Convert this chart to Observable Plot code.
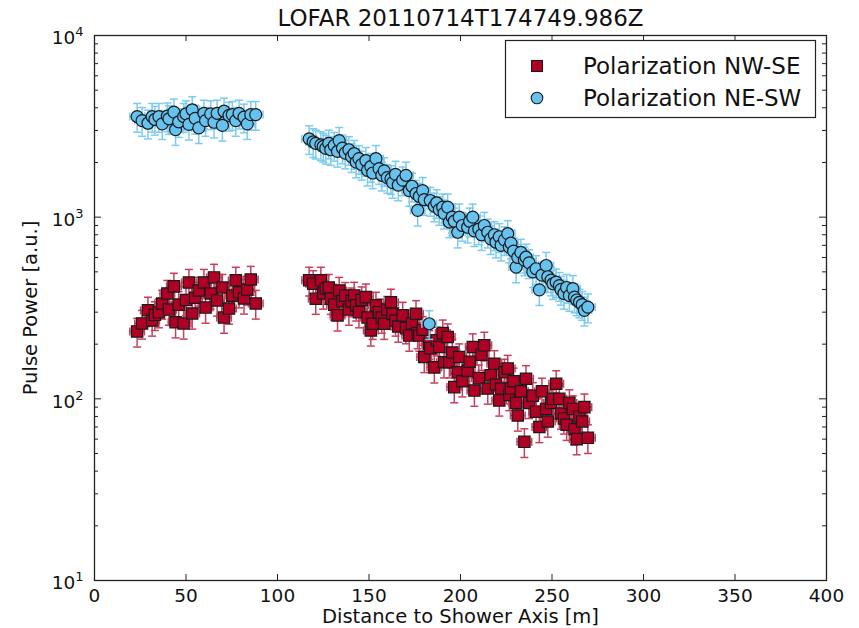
<!DOCTYPE html>
<html>
<head>
<meta charset="utf-8">
<script src="https://cdn.jsdelivr.net/npm/d3@7"></script>
<script src="https://cdn.jsdelivr.net/npm/@observablehq/plot@0.6"></script>
<style>
  body { margin: 0; background: #fff; }
  #chart { width: 859px; height: 628px; }
</style>
</head>
<body>
<div id="chart"></div>
<script>
// ---------------- data ----------------
const title = "LOFAR 20110714T174749.986Z";
const xLabel = "Distance to Shower Axis [m]";
const yLabel = "Pulse Power [a.u.]";
const seriesNames = ["Polarization NW-SE", "Polarization NE-SW"];

const xTicks = [0, 50, 100, 150, 200, 250, 300, 350, 400];
const yTicks = [10, 100, 1000, 10000];
const yTickExponents = ["1", "2", "3", "4"];
const yMinorTicks = [20,30,40,50,60,70,80,90,200,300,400,500,600,700,800,900,2000,3000,4000,5000,6000,7000,8000,9000];

// antenna distances, inner station group
const distLeft = [23.3, 26, 29.2, 31.5, 33, 35.2, 37, 39.8, 40.7, 43.4,
  44.3, 46, 48.7, 50, 51.6, 53.4, 55, 57, 59.8, 60.7,
  63.5, 65.3, 67, 69.9, 70.8, 73.5, 75.3, 77.2, 79, 81.7,
  83.5, 85.4, 88.1];
const nwseLeft = [235, 260, 307, 270, 290, 300, 335, 380, 310, 416,
  264, 330, 260, 350, 437, 295, 360, 395, 437, 318,
  380, 466, 348, 410, 280, 314, 370, 449, 386, 357,
  400, 454, 335];
const neswLeft = [3580, 3400, 3290, 3580, 3450, 3580, 3265, 3600, 3480, 3785,
  3030, 3350, 3580, 3700, 3240, 3900, 3500, 3100, 3730, 3400,
  3700, 3330, 3730, 3200, 3830, 3630, 3670, 3400, 3730, 3550,
  3265, 3670, 3670];

// antenna distances, outer station group
const distRight = [117.3, 119.5, 120.9, 123.7, 125, 126.4, 128, 129.1, 131, 132.8,
  133.7, 135.5, 137, 139, 140.5, 141.9, 143, 144.5, 146, 148.3,
  149.2, 151, 152, 153.8, 155.5, 157, 158.3, 160, 162, 162.9,
  164.5, 166, 168.4, 170.2, 172, 173.5, 175.7, 176.6, 177.5, 179.3,
  180.2, 182.9, 183.5, 185.7, 187, 188.4, 190.3, 191, 193, 193.9,
  195.5, 196.6, 198.5, 199.3, 201, 203.9, 205, 206.7, 207.6, 210,
  211.5, 213, 214.9, 216.5, 218.5, 219.4, 221.2, 222.2, 224, 225.8,
  226.7, 227.6, 229, 230.4, 231.3, 233, 234.9, 235.8, 237.5, 239.5,
  241.3, 243.1, 244.5, 246.8, 247.7, 249.5, 250.5, 252.3, 254, 254.9,
  256.5, 258, 259.5, 261.4, 262.3, 263.5, 265, 266.5, 267.7, 269.6];
const nwseRight = [449, 430, 356, 449, 380, 404, 410, 356, 330, 288,
  395, 345, 370, 310, 345, 371, 327, 300, 350, 363,
  280, 238, 259, 327, 300, 280, 259, 310, 340, 294,
  270, 250, 288, 245, 223, 260, 294, 230, 223, 240,
  170, 201, 190, 149, 210, 193, 230, 159, 219, 159,
  180, 116, 140, 170, 125, 143, 160, 193, 111, 130,
  175, 197, 114, 135, 156, 120, 98, 114, 140, 147,
  105, 114, 125, 95, 81, 110, 58, 129, 95, 104,
  85, 70, 110, 88, 75, 95, 100, 121, 100, 83,
  78, 72, 95, 88, 68, 60, 80, 75, 90, 61];
const neswRight = [2700, 2600, 2550, 2500, 2450, 2390, 2550, 2350, 2480, 2300,
  2640, 2400, 2250, 2350, 2150, 2240, 2010, 2100, 1950, 2050,
  1810, 1900, 1750, 2100, 1850, 1700, 1800, 1650, 1625, 1550,
  1720, 1500, 1600, 1700, 1400, 1480, 1350, 1090, 1300, 1400,
  1250, 259, 1235, 1150, 1200, 1100, 1135, 1050, 1135, 940,
  1000, 950, 826, 1000, 900, 880, 950, 1000, 840, 860,
  800, 900, 826, 760, 800, 728, 780, 700, 750, 811,
  684, 720, 650, 531, 600, 640, 580, 602, 560, 500,
  520, 398, 480, 542, 470, 450, 430, 439, 420, 400,
  380, 410, 370, 404, 363, 350, 340, 330, 307, 320];

const relErr = 0.18;   // relative power uncertainty
const distErr = 4;     // distance uncertainty [m]

// ---------------- chart ----------------
const W = 859, H = 628;
const mL = 94, mR = 33, mT = 35, mB = 48;
const fw = W - mL - mR, fh = H - mT - mB;

const colRed = "#b00024", colRedErr = "#c5405c";
const colBlue = "#66c3f0", colBlueErr = "#7ccbf0";
const edge = "#1a1a1a";
const font = "DejaVu Sans";

const distance = distLeft.concat(distRight);
const powerNWSE = nwseLeft.concat(nwseRight);
const powerNESW = neswLeft.concat(neswRight);
const red = distance.map((d, i) => ({x: d, y: powerNWSE[i]}));
const blue = distance.map((d, i) => ({x: d, y: powerNESW[i]}));

const capH = {draw(ctx, size) { const w = Math.sqrt(size / Math.PI); ctx.moveTo(-w, 0); ctx.lineTo(w, 0); }};
const capV = {draw(ctx, size) { const w = Math.sqrt(size / Math.PI); ctx.moveTo(0, -w); ctx.lineTo(0, w); }};

function seriesMarks(data, barColor, fill, symbol, r) {
  const lo = d => d.y * (1 - relErr), hi = d => d.y * (1 + relErr);
  const xl = d => d.x - distErr, xh = d => d.x + distErr;
  const sw = 1.5;
  return [
    Plot.ruleX(data, {x: "x", y1: lo, y2: hi, stroke: barColor, strokeWidth: sw}),
    Plot.ruleY(data, {y: "y", x1: xl, x2: xh, stroke: barColor, strokeWidth: sw}),
    Plot.dot(data, {x: "x", y: lo, symbol: capH, r: 4, fill: "none", stroke: barColor, strokeWidth: sw}),
    Plot.dot(data, {x: "x", y: hi, symbol: capH, r: 4, fill: "none", stroke: barColor, strokeWidth: sw}),
    Plot.dot(data, {x: xl, y: "y", symbol: capV, r: 4, fill: "none", stroke: barColor, strokeWidth: sw}),
    Plot.dot(data, {x: xh, y: "y", symbol: capV, r: 4, fill: "none", stroke: barColor, strokeWidth: sw}),
    Plot.dot(data, {x: "x", y: "y", symbol, r, fill, stroke: edge, strokeWidth: 1.2})
  ];
}

const sup = {"1": "¹", "2": "²", "3": "³", "4": "⁴"};

const chart = Plot.plot({
  width: W, height: H,
  marginLeft: mL, marginRight: mR, marginTop: mT, marginBottom: mB,
  style: {fontFamily: font, fontSize: "18.5px", background: "#fff", color: "#111"},
  x: {domain: [0, 400]},
  y: {type: "log", domain: [10, 10000]},
  marks: [
    ...seriesMarks(red, colRedErr, colRed, "square", 6.4),
    ...seriesMarks(blue, colBlueErr, colBlue, "circle", 6),
    Plot.frame({stroke: "#222", strokeWidth: 1.3}),
    Plot.tickX(xTicks, {x: d => d, insetTop: fh - 6, stroke: "#222", strokeWidth: 1}),
    Plot.tickX(xTicks, {x: d => d, insetBottom: fh - 6, stroke: "#222", strokeWidth: 1}),
    Plot.tickY(yTicks, {y: d => d, insetRight: fw - 7, stroke: "#222", strokeWidth: 1}),
    Plot.tickY(yTicks, {y: d => d, insetLeft: fw - 7, stroke: "#222", strokeWidth: 1}),
    Plot.tickY(yMinorTicks, {y: d => d, insetRight: fw - 4, stroke: "#222", strokeWidth: 1}),
    Plot.tickY(yMinorTicks, {y: d => d, insetLeft: fw - 4, stroke: "#222", strokeWidth: 1}),
    Plot.axisX({ticks: xTicks, tickSize: 0, tickPadding: 8, label: null, tickFormat: d => String(d)}),
    Plot.axisY({ticks: yTicks, tickSize: 0, tickPadding: 11, label: null,
      tickFormat: d => "10" + sup[yTickExponents[yTicks.indexOf(d)]]}),
    Plot.text([title], {text: d => d, frameAnchor: "top", lineAnchor: "middle", dy: -17, fontSize: 23, fill: "#111"}),
    Plot.text([xLabel], {text: d => d, frameAnchor: "bottom", lineAnchor: "middle", dy: 36, fontSize: 19.5, fill: "#111"}),
    Plot.text([yLabel], {text: d => d, frameAnchor: "left", lineAnchor: "middle", textAnchor: "middle", dx: -64, rotate: -90, fontSize: 19.5, fill: "#111"})
  ]
});

document.getElementById("chart").appendChild(chart);

// mathtext-like superscripts on y tick labels
const inv = {"¹": "1", "²": "2", "³": "3", "⁴": "4"};
chart.querySelectorAll('[aria-label="y-axis tick label"] text').forEach(t => {
  const s = t.textContent;
  const e = inv[s.slice(-1)];
  if (!e) return;
  while (t.firstChild) t.removeChild(t.firstChild);
  const ns = "http://www.w3.org/2000/svg";
  const a = document.createElementNS(ns, "tspan");
  a.setAttribute("dy", "3");
  a.textContent = "10";
  const b = document.createElementNS(ns, "tspan");
  b.setAttribute("dy", "-8");
  b.setAttribute("font-size", "13px");
  b.textContent = e;
  t.appendChild(a); t.appendChild(b);
});

// legend (inside the frame, upper right)
const svg = d3.select(chart);
const lg = svg.append("g").attr("font-family", font).attr("text-anchor", "start");
lg.append("rect").attr("x", 505.5).attr("y", 40.5).attr("width", 310).attr("height", 77)
  .attr("fill", "#fff").attr("stroke", "#222").attr("stroke-width", 1.2);
lg.append("rect").attr("x", 531.5).attr("y", 60.5).attr("width", 11).attr("height", 11)
  .attr("fill", colRed).attr("stroke", edge).attr("stroke-width", 1.1);
lg.append("circle").attr("cx", 537).attr("cy", 98).attr("r", 5.8)
  .attr("fill", colBlue).attr("stroke", edge).attr("stroke-width", 1.1);
lg.append("text").attr("x", 583).attr("y", 66).attr("dy", "0.35em").attr("font-size", 23)
  .attr("text-anchor", "start").attr("fill", "#111").text(seriesNames[0]);
lg.append("text").attr("x", 583).attr("y", 98).attr("dy", "0.35em").attr("font-size", 23)
  .attr("text-anchor", "start").attr("fill", "#111").text(seriesNames[1]);
</script>
</body>
</html>
